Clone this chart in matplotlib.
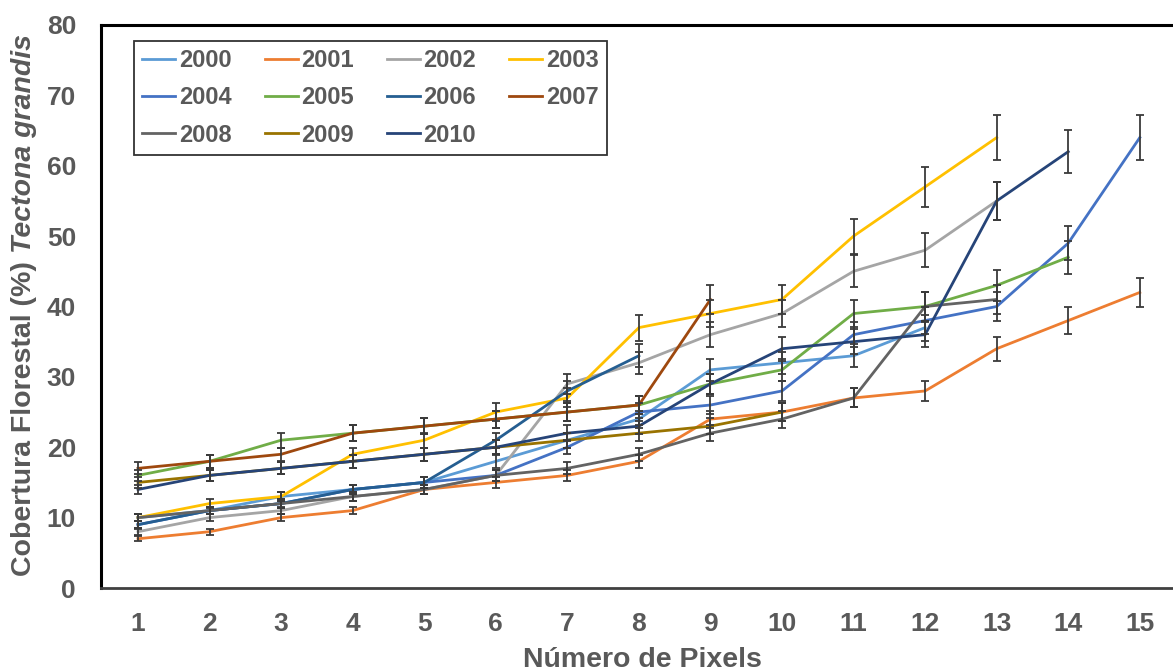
import matplotlib
matplotlib.use("Agg")
import matplotlib.pyplot as plt

plt.rcParams['font.family'] = ['Liberation Sans', 'DejaVu Sans']

# número de pixels (eixo x)
pixels = list(range(1, 16))

# cobertura florestal (%) por ano
anos = ['2000', '2001', '2002', '2003', '2004', '2005',
        '2006', '2007', '2008', '2009', '2010']
v2000 = [10, 11, 13, 14, 15, 18, 21, 24, 31, 32, 33, 37]
v2001 = [7, 8, 10, 11, 14, 15, 16, 18, 24, 25, 27, 28, 34, 38, 42]
v2002 = [8, 10, 11, 13, 14, 16, 29, 32, 36, 39, 45, 48, 55]
v2003 = [10, 12, 13, 19, 21, 25, 27, 37, 39, 41, 50, 57, 64]
v2004 = [9, 11, 12, 14, 15, 16, 20, 25, 26, 28, 36, 38, 40, 49, 64]
v2005 = [16, 18, 21, 22, 23, 24, 25, 26, 29, 31, 39, 40, 43, 47]
v2006 = [9, 11, 12, 14, 15, 21, 28, 33]
v2007 = [17, 18, 19, 22, 23, 24, 25, 26, 41]
v2008 = [10, 11, 12, 13, 14, 16, 17, 19, 22, 24, 27, 40, 41]
v2009 = [15, 16, 17, 18, 19, 20, 21, 22, 23, 25]
v2010 = [14, 16, 17, 18, 19, 20, 22, 23, 29, 34, 35, 36, 55, 62]
valores = [v2000, v2001, v2002, v2003, v2004, v2005,
           v2006, v2007, v2008, v2009, v2010]

# barras de erro: 5% do valor
erro_pct = 0.05

cores = ['#5B9BD5', '#ED7D31', '#A5A5A5', '#FFC000', '#4472C4', '#70AD47',
         '#255E91', '#9E480E', '#636363', '#997300', '#264478']
cinza = '#595959'

W, H = 1173, 670
fig = plt.figure(figsize=(W / 100, H / 100), dpi=100)
ax = fig.add_axes([101 / W, 82 / H, 1076 / W, 563 / H])

linhas = []
for ano, vals, cor in zip(anos, valores, cores):
    xs = pixels[:len(vals)]
    erros = [v * erro_pct for v in vals]
    ln, = ax.plot(xs, vals, color=cor, lw=2.0, label=ano, zorder=2)
    ax.errorbar(xs, vals, yerr=erros, fmt='none', ecolor='#3a3a3a',
                elinewidth=1.3, capsize=3, capthick=1.3, zorder=3)
    linhas.append(ln)

ax.set_xlim(0.483, 15.52)
ax.set_ylim(0, 80)
ax.set_xticks(pixels)
ax.set_yticks(range(0, 81, 10))
ax.tick_params(length=0, labelsize=19, labelcolor=cinza)
ax.tick_params(axis='x', pad=17)
ax.tick_params(axis='y', pad=18)
for lab in ax.get_xticklabels() + ax.get_yticklabels():
    lab.set_fontweight('bold')

for lado in ['left', 'top']:
    ax.spines[lado].set_color('black')
    ax.spines[lado].set_linewidth(2.2)
ax.spines['bottom'].set_color('#404040')
ax.spines['bottom'].set_linewidth(2.0)
ax.spines['right'].set_visible(False)

# título do eixo x
fig.text(642 / W, 3 / H, 'Número de Pixels', fontsize=20.5, fontweight='bold',
         color=cinza, ha='center', va='baseline')

# título do eixo y: parte normal + nome científico em itálico
t1 = fig.text(24 / W, 0, 'Cobertura Florestal (%) ', fontsize=20.5,
              fontweight='bold', color=cinza, rotation=90,
              rotation_mode='anchor', ha='left', va='center')
t2 = fig.text(24 / W, 0, 'Tectona grandis', fontsize=20.5, fontweight='bold',
              fontstyle='italic', color=cinza, rotation=90,
              rotation_mode='anchor', ha='left', va='center')
fig.canvas.draw()
rend = fig.canvas.get_renderer()
h1 = t1.get_window_extent(rend).height
h2 = t2.get_window_extent(rend).height
y0 = (H - 305) - (h1 + h2) / 2
t1.set_position((24 / W, y0 / H))
t2.set_position((24 / W, (y0 + h1) / H))

# legenda em 4 colunas preenchida por linha
ordem = [0, 4, 8, 1, 5, 9, 2, 6, 10, 3, 7]
leg = ax.legend([linhas[i] for i in ordem], [anos[i] for i in ordem],
                ncol=4, loc='upper left', bbox_to_anchor=(0.0307, 0.9716),
                borderaxespad=0, fancybox=False, frameon=True,
                edgecolor='black', handlelength=1.4,
                handletextpad=0.15, columnspacing=1.4, labelspacing=0.6,
                borderpad=0.35,
                prop={'weight': 'bold', 'size': 17})
leg.get_frame().set_linewidth(1.3)
for t in leg.get_texts():
    t.set_color(cinza)

fig.savefig('out.png', dpi=100)
